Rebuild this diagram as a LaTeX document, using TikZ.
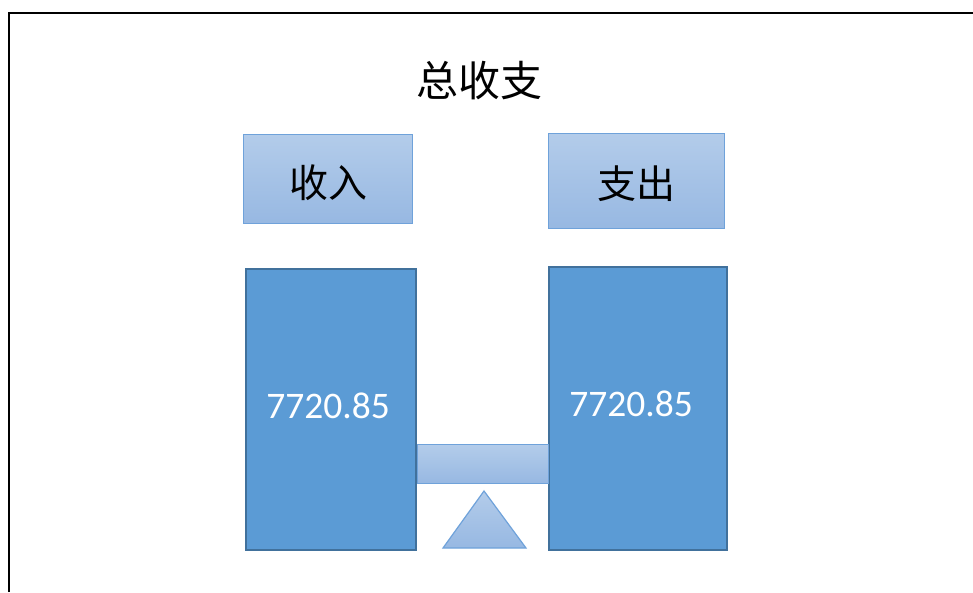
\documentclass[tikz,border=0pt]{standalone}
\usepackage{fontspec}
\newfontfamily\cjk{Noto Sans CJK SC}
\newfontfamily\numfont{Carlito}
\definecolor{lighttop}{HTML}{B3CCEA}
\definecolor{lightbot}{HTML}{97B8E2}
\definecolor{lightedge}{HTML}{6FA2DA}
\definecolor{midblue}{HTML}{5B9BD5}
\definecolor{darkedge}{HTML}{41719C}
\begin{document}
\begin{tikzpicture}[x=1pt,y=-1pt,
  lightbox/.style={draw=lightedge, line width=1.2pt, top color=lighttop, bottom color=lightbot, inner sep=0pt, anchor=north west},
  bigbox/.style={draw=darkedge, line width=2pt, fill=midblue, inner sep=0pt, anchor=north west},
  labeltxt/.style={font=\cjk\fontsize{39}{40}\selectfont, text=black},
  numtxt/.style={font=\numfont\fontsize{37.5}{40}\selectfont, text=white}]
\useasboundingbox (0,0) rectangle (973,592);
\fill[white] (0,0) rectangle (973,592);
\draw[line width=1.6pt, black] (9,592) |- (973,13);
\node[font=\cjk\fontsize{42}{44}\selectfont] (title) at (479,81) {总收支};
\node[lightbox, minimum width=169pt, minimum height=89pt] (inbox) at (243,134) {};
\node[labeltxt] (inlbl) at ([yshift=-4pt]inbox.center) {收入};
\node[lightbox, minimum width=176pt, minimum height=95pt] (outbox) at (548,133) {};
\node[labeltxt] (outlbl) at ([yshift=-3pt]outbox.center) {支出};
\node[bigbox, minimum width=170pt, minimum height=281pt] (inbar) at (245,268) {};
\node[bigbox, minimum width=178pt, minimum height=283pt] (outbar) at (548,266) {};
\node[numtxt] (innum) at (328,406) {7720.85};
\node[numtxt] (outnum) at (631,404) {7720.85};
\node[lightbox, minimum width=131pt, minimum height=39pt] (beam) at (417,444) {};
\shade[top color=lighttop, bottom color=lightbot, draw=lightedge, line width=1.2pt, line join=miter] (484,491) -- (526,548) -- (443,548) -- cycle;
\end{tikzpicture}
\end{document}
